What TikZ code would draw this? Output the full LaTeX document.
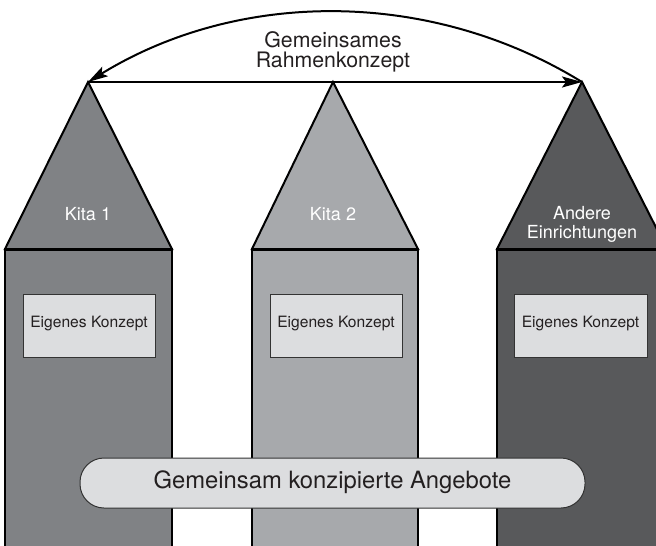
\documentclass[tikz,border=0pt]{standalone}
\usepackage{fontspec}
\setmainfont{TeX Gyre Heros}
\usepackage{tikz}
\usetikzlibrary{arrows.meta}
\tikzset{edge/.style = {-{Stealth[length=20pt,width=11pt,inset=4pt]}, line width=2pt}}
\tikzset{house/.style = {draw=black, line width=2pt, line join=miter}}
\tikzset{ownbox/.style = {draw=black!80, line width=1pt, fill=boxgray}}
\definecolor{kitaone}{HTML}{808285}
\definecolor{kitatwo}{HTML}{A7A9AC}
\definecolor{other}{HTML}{58595B}
\definecolor{boxgray}{HTML}{DCDDDF}
\definecolor{ink}{HTML}{231F20}

\begin{document}
\begin{tikzpicture}[x=1pt,y=-1pt]
        \useasboundingbox (0,0) rectangle (656,546);
        \clip (0,0) rectangle (656,546);

        % Tips of the roofs
        \coordinate (tipa) at (88,82);
        \coordinate (tipb) at (333,82);
        \coordinate (tipc) at (582,82);

        % Columns
        \draw[house, fill=kitaone] (5,249) rectangle (172,560);
        \draw[house, fill=kitatwo] (252,249) rectangle (418,560);
        \draw[house, fill=other] (497,249) rectangle (667,560);

        % Roofs
        \draw[house, fill=kitaone] (tipa) -- (5,249) -- (172,249) -- cycle;
        \draw[house, fill=kitatwo] (tipb) -- (252,249) -- (418,249) -- cycle;
        \draw[house, fill=other] (tipc) -- (497,249) -- (667,249) -- cycle;
        \draw[line width=3pt] (5,249) -- (172,249);
        \draw[line width=3pt] (252,249) -- (418,249);
        \draw[line width=3pt] (497,249) -- (667,249);

        \node[anchor=base, text=white, font=\fontsize{18}{19}\selectfont] (kita1) at (88,220) {Kita 1};
        \node[anchor=base, text=white, font=\fontsize{18}{19}\selectfont] (kita2) at (333,220) {Kita 2};
        \node[anchor=base, text=white, align=center, font=\fontsize{18}{19}\selectfont] (andere) at (582,238) {Andere\\Einrichtungen};

        % Own concepts
        \draw[ownbox] (23,294) rectangle (155,357);
        \draw[ownbox] (270,294) rectangle (402,357);
        \draw[ownbox] (514,294) rectangle (647,357);
        \node[anchor=base, text=ink, font=\fontsize{15.6}{16}\selectfont] (konza) at (89,327) {Eigenes Konzept};
        \node[anchor=base, text=ink, font=\fontsize{15.6}{16}\selectfont] (konzb) at (336,327) {Eigenes Konzept};
        \node[anchor=base, text=ink, font=\fontsize{15.6}{16}\selectfont] (konzc) at (580.5,327) {Eigenes Konzept};

        % Common offers
        \draw[ownbox, rounded corners=24pt] (80,458) rectangle (585,508);
        \node[anchor=base, text=ink, font=\fontsize{23.8}{24}\selectfont] (angebote) at (332.5,488) {Gemeinsam konzipierte Angebote};

        % Common frame
        \node[anchor=base, text=ink, align=center, font=\fontsize{21.3}{20}\selectfont] (rahmen) at (333,67) {Gemeinsames\\Rahmenkonzept};
        \draw[edge] (tipa) -- (tipc);
        \draw[edge] (tipc) .. controls (430.7,-11.1) and (239.3,-11.1) .. (tipa);
    \end{tikzpicture}
\end{document}
